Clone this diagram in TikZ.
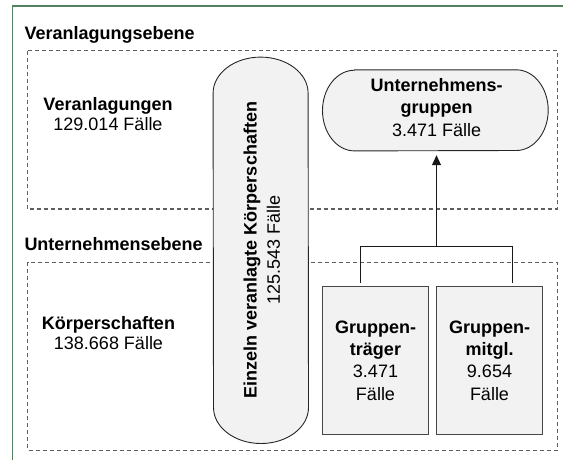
\documentclass[tikz,border=0pt]{standalone}
\usepackage{fontspec}
\setmainfont{Liberation Sans}
\usetikzlibrary{arrows.meta,calc}
\definecolor{framegreen}{RGB}{84,130,96}
\definecolor{boxfill}{RGB}{242,242,242}
\definecolor{dashc}{RGB}{95,95,95}
\definecolor{edgec}{RGB}{70,70,70}
\begin{document}
\begin{tikzpicture}[x=1pt,y=1pt,
  lbl/.style={inner sep=0pt, align=center, font=\fontsize{18}{20}\selectfont},
  ttl/.style={inner sep=0pt, anchor=base west, font=\fontsize{18}{22}\selectfont\bfseries},
  dashbox/.style={draw=dashc, line width=1.1pt, dash pattern=on 4pt off 3pt},
  roundshape/.style={draw=black!85, line width=0.9pt, fill=boxfill},
  grpbox/.style={draw=edgec, line width=1pt, fill=boxfill, minimum width=105.6pt, minimum height=147.6pt, inner sep=0pt, align=center, font=\fontsize{18}{22.2}\selectfont},
  conn/.style={draw=black!90, line width=0.9pt}]
\useasboundingbox (0,0) rectangle (567,-459);
% outer frame
\draw[framegreen, line width=1.4pt] (563,-6) -- (12.7,-6) -- (12.7,-460);
% level titles
\node[ttl] (t1) at (24.3,-39.3) {Veranlagungsebene};
\node[ttl] (t2) at (24.3,-250) {Unternehmensebene};
% dashed level boxes
\draw[dashbox] (27.7,-50.7) rectangle (557.5,-209);
\draw[dashbox] (27.7,-262.3) rectangle (557.5,-450.3);
% left labels
\node[lbl] (va) at (108,-114.5) {\textbf{Veranlagungen}\\129.014 Fälle};
\node[lbl] (kp) at (108.5,-332.7) {\textbf{Körperschaften}\\138.668 Fälle};
% vertical pill
\node[minimum width=95pt, minimum height=386pt, inner sep=0pt] (ek) at (260.8,-250.3) {};
\draw[roundshape] ([yshift=-36pt]ek.north west)
  arc[start angle=180, end angle=0, x radius=47.5pt, y radius=36pt]
  -- ([yshift=36pt]ek.south east)
  arc[start angle=0, end angle=-180, x radius=47.5pt, y radius=36pt] -- cycle;
\node[lbl, rotate=90, font=\fontsize{18}{23.3}\selectfont] (ekt) at (261.8,-250)
  {\textbf{Einzeln veranlagte Körperschaften}\\125.543 Fälle};
% Unternehmensgruppen
\node[minimum width=225.3pt, minimum height=80.7pt, inner sep=0pt] (ug) at (435.35,-110.35) {};
\draw[roundshape] ([xshift=32pt]ug.north west) -- ([xshift=-32pt]ug.north east)
  arc[start angle=90, end angle=-90, x radius=32pt, y radius=40.35pt]
  -- ([xshift=32pt]ug.south west)
  arc[start angle=270, end angle=90, x radius=32pt, y radius=40.35pt] -- cycle;
\node[lbl, font=\fontsize{18}{22.2}\selectfont] (ugt) at (436.7,-107.4)
  {\textbf{Unternehmens-}\\\textbf{gruppen}\\3.471 Fälle};
% group boxes
\node[grpbox] (gt) at (375.5,-360.5) {\textbf{Gruppen-}\\\textbf{träger}\\3.471\\Fälle};
\node[grpbox] (gm) at (489.5,-360.5) {\textbf{Gruppen-}\\\textbf{mitgl.}\\9.654\\Fälle};
% connectors
\coordinate (dl) at ([xshift=-14.8pt,yshift=3.4pt]gt.north);
\coordinate (dr) at ([xshift=22.5pt,yshift=3.4pt]gm.north);
\coordinate (j) at (436.5,-246.7);
\draw[conn] (dl) |- (j) -| (dr);
\draw[conn, -{Triangle[width=9pt,length=10pt]}, shorten >=4.3pt] (j) -- (j |- ug.south);
\end{tikzpicture}
\end{document}
